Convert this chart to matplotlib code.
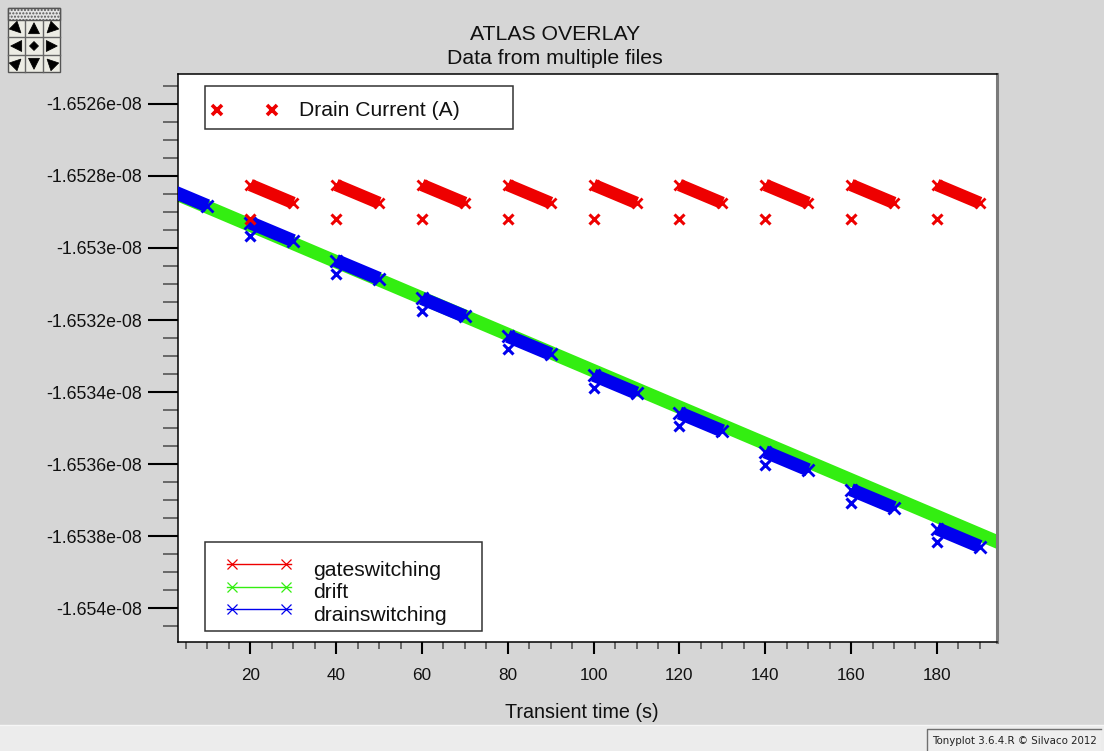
import matplotlib
matplotlib.use("Agg")
import matplotlib.pyplot as plt
from matplotlib.lines import Line2D
from matplotlib.patches import Rectangle, Polygon
from matplotlib.ticker import FixedLocator, MultipleLocator, FuncFormatter

plt.rcParams['font.family'] = ['Liberation Sans', 'DejaVu Sans']

# ---------------- data ----------------
# drift run: drain current over the full transient
drift_time = [0, 20, 40, 60, 80, 100, 120, 140, 160, 180, 200]
drift_current = [-1.652836e-08, -1.652937e-08, -1.653038e-08, -1.653139e-08,
                 -1.653240e-08, -1.653341e-08, -1.653442e-08, -1.653543e-08,
                 -1.653644e-08, -1.653745e-08, -1.653846e-08]

# gate switching: one 10 s event starting every 20 s
gate_time = [20, 40, 60, 80, 100, 120, 140, 160, 180]
gate_first = [-1.652825e-08, -1.652825e-08, -1.652825e-08, -1.652825e-08, -1.652825e-08,
              -1.652825e-08, -1.652825e-08, -1.652825e-08, -1.652825e-08]
gate_last = [-1.652875e-08, -1.652875e-08, -1.652875e-08, -1.652875e-08, -1.652875e-08,
             -1.652875e-08, -1.652875e-08, -1.652875e-08, -1.652875e-08]
gate_spike = [-1.652919e-08, -1.652919e-08, -1.652919e-08, -1.652919e-08, -1.652919e-08,
              -1.652919e-08, -1.652919e-08, -1.652919e-08, -1.652919e-08]

# drain switching: one 10 s event starting every 20 s
drain_time = [0, 20, 40, 60, 80, 100, 120, 140, 160, 180]
drain_first = [-1.652833e-08, -1.652930e-08, -1.653035e-08, -1.653140e-08, -1.653245e-08,
               -1.653353e-08, -1.653458e-08, -1.653566e-08, -1.653671e-08, -1.653779e-08]
drain_last = [-1.652883e-08, -1.652980e-08, -1.653085e-08, -1.653190e-08, -1.653295e-08,
              -1.653403e-08, -1.653508e-08, -1.653616e-08, -1.653721e-08, -1.653829e-08]
drain_spike_time = [20, 40, 60, 80, 100, 120, 140, 160, 180]
drain_spike = [-1.652966e-08, -1.653071e-08, -1.653176e-08, -1.653281e-08, -1.653389e-08,
               -1.653494e-08, -1.653602e-08, -1.653707e-08, -1.653815e-08]

event_length = 10

x_ticks = [20, 40, 60, 80, 100, 120, 140, 160, 180]
y_ticks = [-1.6526e-08, -1.6528e-08, -1.653e-08, -1.6532e-08, -1.6534e-08,
           -1.6536e-08, -1.6538e-08, -1.654e-08]

series_names = ['gateswitching', 'drift', 'drainswitching']
quantity_name = 'Drain Current (A)'

RED = '#ee0000'
GREEN = '#33ee11'
BLUE = '#0000ee'

# ---------------- figure ----------------
W, H = 1104, 751
fig = plt.figure(figsize=(W / 100, H / 100), dpi=100, facecolor='#d6d6d6')


def fxy(x, y):
    """pixel position (from top-left) to figure fraction"""
    return x / W, 1 - y / H


ax = fig.add_axes([178 / W, 1 - 642 / H, 819 / W, 568 / H])
ax.set_facecolor('white')

ax.plot(drift_time, drift_current, color=GREEN, lw=9.6, solid_capstyle='butt', zorder=2)

for t0, a, b in zip(drain_time, drain_first, drain_last):
    ax.plot([t0, t0 + event_length], [a, b], color=BLUE, lw=9.6, solid_capstyle='butt',
            marker='x', ms=8, mew=2.0, zorder=3)
ax.plot(drain_spike_time, drain_spike, ls='none', marker='x', ms=7.5, mew=2.2,
        color=BLUE, zorder=3)

for t0, a, b in zip(gate_time, gate_first, gate_last):
    ax.plot([t0, t0 + event_length], [a, b], color=RED, lw=9.0, solid_capstyle='butt',
            marker='x', ms=7.5, mew=2.0, zorder=3)
ax.plot(gate_time, gate_spike, ls='none', marker='x', ms=7, mew=2.2, color=RED, zorder=3)

ax.set_xlim(3.15, 194.0)
ax.set_ylim(-1.654094e-08, -1.652517e-08)

ax.xaxis.set_major_locator(FixedLocator(x_ticks))
ax.xaxis.set_minor_locator(MultipleLocator(5))
ax.yaxis.set_major_locator(FixedLocator(y_ticks))
ax.yaxis.set_minor_locator(MultipleLocator(0.5e-12))
ax.yaxis.set_major_formatter(FuncFormatter(lambda v, p: '%.5g' % v))
ax.xaxis.set_major_formatter(FuncFormatter(lambda v, p: '%d' % round(v)))

ax.tick_params(axis='y', which='major', direction='out', length=21.6, width=1.5,
               color='black', pad=4, labelsize=12.8, labelcolor='#111111')
ax.tick_params(axis='y', which='minor', direction='out', length=10.8, width=1.2,
               color='#555555')
ax.tick_params(axis='x', which='major', direction='out', length=8.6, width=1.5,
               color='black', pad=10, labelsize=12.3, labelcolor='#111111')
ax.tick_params(axis='x', which='minor', direction='out', length=5, width=1.2,
               color='#555555')

for side in ('left', 'top', 'bottom'):
    ax.spines[side].set_color('black')
    ax.spines[side].set_linewidth(1.1)
ax.spines['right'].set_color('#7a7a7a')
ax.spines['right'].set_linewidth(2.2)

ax.set_xlabel('Transient time (s)', fontsize=14.2, color='#111111')
ax.xaxis.set_label_coords((582 - 178) / 819, -(703 - 642) / 568)

# titles
fig.text(*fxy(555, 34), 'ATLAS OVERLAY', ha='center', va='center', fontsize=15.3,
         color='#111111')
fig.text(*fxy(555, 59), 'Data from multiple files', ha='center', va='center',
         fontsize=15.3, color='#111111')

# ---------- quantity key (upper) ----------
x0, y0 = fxy(205, 129)
x1, y1 = fxy(513, 86)
fig.add_artist(Rectangle((x0, y0), x1 - x0, y1 - y0, transform=fig.transFigure,
                         facecolor='white', edgecolor='#333333', lw=1.1, zorder=5))
fig.add_artist(Line2D([fxy(217, 0)[0], fxy(272, 0)[0]], [fxy(0, 110)[1]] * 2,
                      transform=fig.transFigure, ls='none', marker='x', ms=7.5, mew=2.6,
                      color=RED, zorder=6))
fig.text(*fxy(299, 110), quantity_name, ha='left', va='center', fontsize=15.2,
         color='#111111', zorder=6)

# ---------- series key (lower) ----------
x0, y0 = fxy(205, 631)
x1, y1 = fxy(482, 542)
fig.add_artist(Rectangle((x0, y0), x1 - x0, y1 - y0, transform=fig.transFigure,
                         facecolor='white', edgecolor='#333333', lw=1.1, zorder=5))
key_rows = [563.5, 586.5, 609]
for name, col, yy in zip(series_names, [RED, GREEN, BLUE], key_rows):
    ya = fxy(0, yy)[1]
    fig.add_artist(Line2D([fxy(227, 0)[0], fxy(291, 0)[0]], [ya, ya],
                          transform=fig.transFigure, color=col, lw=1.0, zorder=6))
    fig.add_artist(Line2D([fxy(232, 0)[0], fxy(286, 0)[0]], [ya, ya],
                          transform=fig.transFigure, ls='none', marker='x', ms=7,
                          mew=0.9, color=col, zorder=6))
    fig.text(*fxy(313, yy + 12), name, ha='left', va='baseline', fontsize=15.2,
             color='#111111', zorder=6)

# ---------- status bar ----------
sx0, sy0 = fxy(0, 751)
fig.add_artist(Rectangle((sx0, sy0), 1.0, 26 / H, transform=fig.transFigure,
                         facecolor='#ececec', edgecolor='none', zorder=1))
fig.add_artist(Line2D([0, 1], [fxy(0, 725)[1]] * 2, transform=fig.transFigure,
                      color='#f6f6f6', lw=1, zorder=1))
bx0, by0 = fxy(927, 751)
bx1, by1 = fxy(1101, 729)
fig.add_artist(Rectangle((bx0, by0), bx1 - bx0, by1 - by0, transform=fig.transFigure,
                         facecolor='#eeeeee', edgecolor='none', zorder=2))
fig.add_artist(Line2D([bx0, bx0, bx1], [by0, by1, by1], transform=fig.transFigure,
                      color='#707070', lw=1, zorder=3))
fig.text(*fxy(1014, 741), 'Tonyplot 3.6.4.R \u00a9 Silvaco 2012', ha='center',
         va='center', fontsize=7.4, family=['DejaVu Sans'], color='#222222', zorder=4)

# ---------- navigation pad ----------
px0, py0 = fxy(8, 72)
px1, py1 = fxy(60, 8)
fig.add_artist(Rectangle((px0, py0), px1 - px0, py1 - py0, transform=fig.transFigure,
                         facecolor='#ecece4', edgecolor='#555555', lw=1, zorder=2))
hx0, hy0 = fxy(8, 20)
fig.add_artist(Rectangle((hx0, hy0), px1 - hx0, py1 - hy0, transform=fig.transFigure,
                         facecolor='#e4e4e4', edgecolor='#555555', lw=1, hatch='.....',
                         zorder=3))
for gx in (25.3, 42.7):
    fig.add_artist(Line2D([fxy(gx, 0)[0]] * 2, [fxy(0, 20)[1], fxy(0, 72)[1]],
                          transform=fig.transFigure, color='#666666', lw=1, zorder=3))
for gy in (37.3, 54.7):
    fig.add_artist(Line2D([px0, px1], [fxy(0, gy)[1]] * 2,
                          transform=fig.transFigure, color='#666666', lw=1, zorder=3))

cell_cx = [16.7, 34.0, 51.3]
cell_cy = [28.7, 46.0, 63.3]
# direction each arrow points (dx, dy in screen pixels, y downwards)
arrow_dirs = [[(1, 1), (0, -1), (-1, 1)],
              [(-1, 0), None, (1, 0)],
              [(1, -1), (0, 1), (-1, -1)]]
for r in range(3):
    for c in range(3):
        cx, cy = cell_cx[c], cell_cy[r]
        d = arrow_dirs[r][c]
        if d is None:
            pts = [(cx, cy - 4.5), (cx + 4.5, cy), (cx, cy + 4.5), (cx - 4.5, cy)]
        else:
            nx, ny = d
            n = (nx * nx + ny * ny) ** 0.5
            nx, ny = nx / n, ny / n
            px_, py_ = -ny, nx
            tip = (cx + 6 * nx, cy + 6 * ny)
            b1 = (cx - 5 * nx + 5.5 * px_, cy - 5 * ny + 5.5 * py_)
            b2 = (cx - 5 * nx - 5.5 * px_, cy - 5 * ny - 5.5 * py_)
            pts = [tip, b1, b2]
        fig.add_artist(Polygon([fxy(x, y) for x, y in pts], closed=True,
                               transform=fig.transFigure, facecolor='black',
                               edgecolor='black', lw=0.5, zorder=4))

fig.savefig('out.png', dpi=100, facecolor=fig.get_facecolor())
